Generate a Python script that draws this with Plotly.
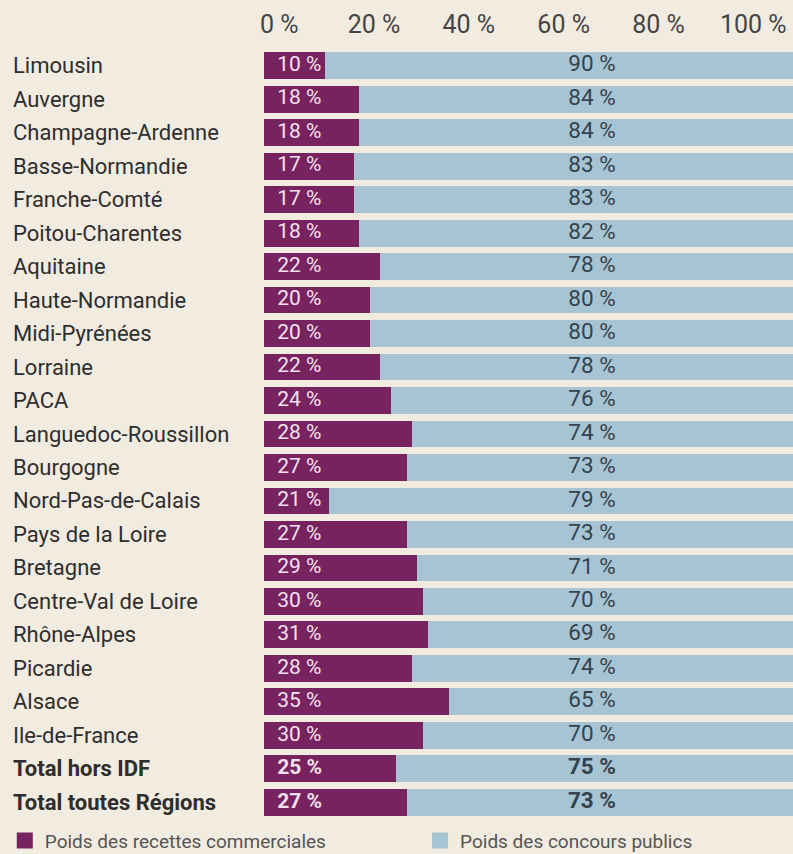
import plotly.graph_objects as go

# ---- data ----
regions = [
    "Limousin", "Auvergne", "Champagne-Ardenne", "Basse-Normandie", "Franche-Comté",
    "Poitou-Charentes", "Aquitaine", "Haute-Normandie", "Midi-Pyrénées", "Lorraine",
    "PACA", "Languedoc-Roussillon", "Bourgogne", "Nord-Pas-de-Calais", "Pays de la Loire",
    "Bretagne", "Centre-Val de Loire", "Rhône-Alpes", "Picardie", "Alsace",
    "Ile-de-France", "Total hors IDF", "Total toutes Régions",
]
# printed labels
recettes_label = [10, 18, 18, 17, 17, 18, 22, 20, 20, 22, 24, 28, 27, 21, 27, 29, 30, 31, 28, 35, 30, 25, 27]
concours_label = [90, 84, 84, 83, 83, 82, 78, 80, 80, 78, 76, 74, 73, 79, 73, 71, 70, 69, 74, 65, 70, 75, 73]
# bar extents as drawn in the reference (two source bars do not match their labels)
recettes_bar = [11.5, 18, 18, 17, 17, 18, 22, 20, 20, 22, 24, 28, 27, 12.3, 27, 29, 30, 31, 28, 35, 30, 25, 27]
concours_bar = [90, 84, 84, 83, 83, 82, 78, 80, 80, 78, 76, 74, 73, 88, 73, 71, 70, 69, 74, 65, 70, 75, 73]
bold_rows = ["Total hors IDF", "Total toutes Régions"]
tick_vals = [0, 20, 40, 60, 80, 100]
tick_text = ["0 %", "20 %", "40 %", "60 %", "80 %", "100 %"]
legend_names = ["Poids des recettes commerciales", "Poids des concours publics"]

# ---- style ----
PURPLE = "#77235f"
BLUE = "#a6c4d3"
BG = "#f2ebe0"
FONT = "Roboto"
PURPLE_LABEL_X = 2.5
BLUE_LABEL_X = 62


def fmt(v, name):
    s = f"{v} %"
    return f"<b>{s}</b>" if name in bold_rows else s


fig = go.Figure()
fig.add_trace(go.Bar(
    y=regions, x=recettes_bar, orientation="h", marker=dict(color=PURPLE, line=dict(width=0)),
    showlegend=False, hoverinfo="skip",
))
fig.add_trace(go.Bar(
    y=regions, x=concours_bar, orientation="h", marker=dict(color=BLUE, line=dict(width=0)),
    showlegend=False, hoverinfo="skip",
))
fig.add_trace(go.Scatter(
    y=regions, x=[PURPLE_LABEL_X] * len(regions), mode="text",
    text=[fmt(v, r) for v, r in zip(recettes_label, regions)],
    textposition="middle right", textfont=dict(family=FONT, size=21, color="#f6e0f0"),
    showlegend=False, hoverinfo="skip", cliponaxis=False,
))
fig.add_trace(go.Scatter(
    y=regions, x=[BLUE_LABEL_X] * len(regions), mode="text",
    text=[fmt(v, r) for v, r in zip(concours_label, regions)],
    textposition="middle center", textfont=dict(family=FONT, size=22.5, color="#34434d"),
    showlegend=False, hoverinfo="skip", cliponaxis=False,
))
# legend entries (two separate legends, placed like the reference)
for name, col, lg in zip(legend_names, [PURPLE, BLUE], ["legend", "legend2"]):
    fig.add_trace(go.Scatter(
        x=[None], y=[None], mode="markers", name=name, legend=lg,
        marker=dict(symbol="square", size=16, color=col),
    ))
# dummy trace for top tick axis
fig.add_trace(go.Scatter(x=[], y=[], xaxis="x2", showlegend=False, hoverinfo="skip"))

# category labels (left aligned)
for r in regions:
    fig.add_annotation(
        x=-0.478, xref="paper", y=r, yref="y", xanchor="left", yanchor="middle",
        text=f"<b>{r}</b>" if r in bold_rows else r, showarrow=False,
        font=dict(family=FONT, size=22, color="#2e2e2e"),
    )

legend_style = dict(
    orientation="h", yanchor="top", y=-0.0035, xanchor="left",
    font=dict(family=FONT, size=19, color="#555"),
    bgcolor="rgba(0,0,0,0)", itemsizing="trace",
)

fig.update_layout(
    width=793, height=854,
    margin=dict(l=264, r=0, t=49, b=35, autoexpand=False),
    paper_bgcolor=BG, plot_bgcolor=BG,
    barmode="stack", bargap=0.2,
    font=dict(family=FONT, color="#444"),
    xaxis=dict(range=[0, 100], visible=False, fixedrange=True),
    xaxis2=dict(
        overlaying="x", side="top", anchor="y", range=[-3.21, 108.37],
        tickvals=tick_vals, ticktext=tick_text, showgrid=False, zeroline=False,
        showline=False, ticks="", ticklabelstandoff=10, automargin=False,
        tickfont=dict(family=FONT, size=25, color="#444"),
    ),
    yaxis=dict(range=[len(regions) - 0.5, -0.5], showticklabels=False, showgrid=False,
               zeroline=False, categoryorder="array", categoryarray=regions),
    legend=dict(x=-0.49, **legend_style),
    legend2=dict(x=0.295, **legend_style),
)

fig.write_html(
    "out.html",
    config={"displayModeBar": False},
    post_script="document.body.style.margin='0';document.body.style.background='%s';" % BG,
)
